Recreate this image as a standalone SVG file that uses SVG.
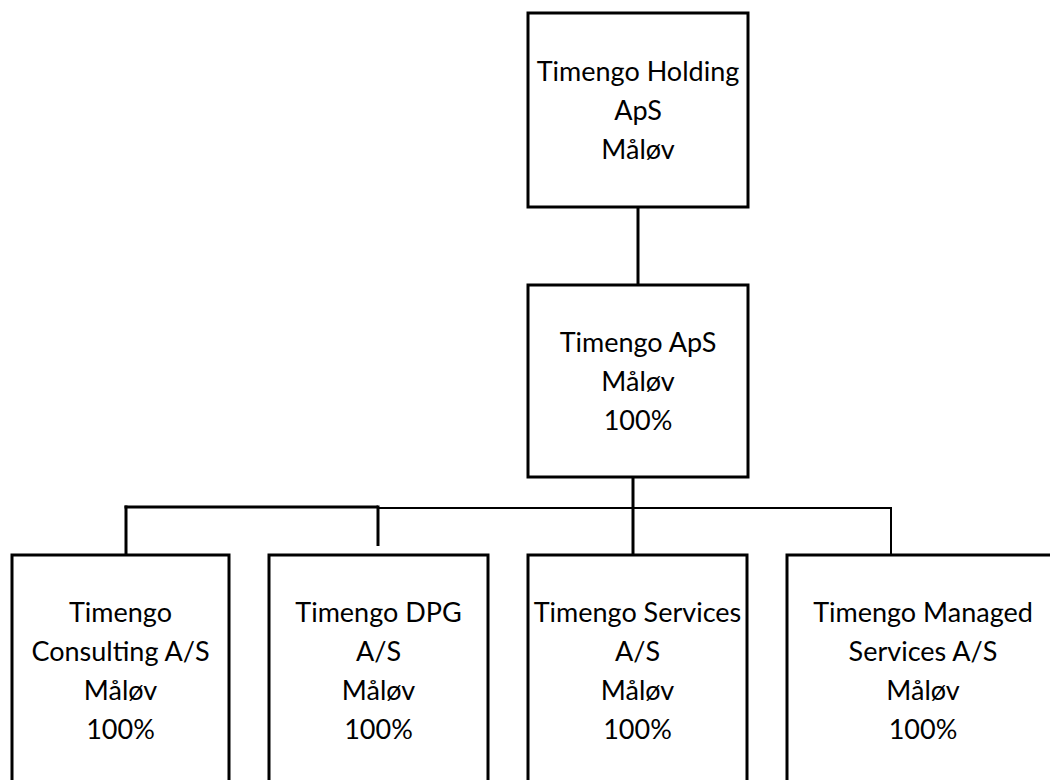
<svg xmlns="http://www.w3.org/2000/svg" width="1050" height="780" viewBox="0 0 1050 780">
  <style>
    .box { fill: #ffffff; stroke: #000000; stroke-width: 3; }
    .lbl { font-family: Lato, "Open Sans", "Liberation Sans", sans-serif; font-size: 27px; fill: #000000; text-anchor: middle; }
    .ln { stroke: #000000; stroke-width: 3; fill: none; }
    .thin { stroke: #000000; stroke-width: 2; fill: none; }
  </style>
  <rect width="1050" height="780" fill="#ffffff"/>
  <g id="connectors">
    <line class="ln" x1="638" y1="207" x2="638" y2="285"/>
    <line class="ln" x1="633" y1="477" x2="633" y2="555"/>
    <line class="ln" x1="124.5" y1="507" x2="378" y2="507"/>
    <line class="thin" x1="378" y1="508" x2="892" y2="508"/>
    <line class="ln" x1="126" y1="505.5" x2="126" y2="555"/>
    <line class="ln" x1="378" y1="505.5" x2="378" y2="546"/>
    <line class="thin" x1="891" y1="507" x2="891" y2="555"/>
  </g>
  <g id="holding">
    <rect class="box" x="528" y="13" width="220" height="194"/>
    <text class="lbl" x="638" y="81">Timengo Holding</text>
    <text class="lbl" x="638" y="120">ApS</text>
    <text class="lbl" x="638" y="159">Måløv</text>
  </g>
  <g id="timengo-aps">
    <rect class="box" x="528" y="285" width="220" height="192"/>
    <text class="lbl" x="638" y="352">Timengo ApS</text>
    <text class="lbl" x="638" y="391">Måløv</text>
    <text class="lbl" x="638" y="430">100%</text>
  </g>
  <g id="consulting">
    <rect class="box" x="12" y="555" width="217" height="260"/>
    <text class="lbl" x="120.5" y="622">Timengo</text>
    <text class="lbl" x="120.5" y="661">Consulting A/S</text>
    <text class="lbl" x="120.5" y="700">Måløv</text>
    <text class="lbl" x="120.5" y="739">100%</text>
  </g>
  <g id="dpg">
    <rect class="box" x="269" y="555" width="219" height="260"/>
    <text class="lbl" x="378.5" y="622">Timengo DPG</text>
    <text class="lbl" x="378.5" y="661">A/S</text>
    <text class="lbl" x="378.5" y="700">Måløv</text>
    <text class="lbl" x="378.5" y="739">100%</text>
  </g>
  <g id="services">
    <rect class="box" x="528" y="555" width="219" height="260"/>
    <text class="lbl" x="637.5" y="622">Timengo Services</text>
    <text class="lbl" x="637.5" y="661">A/S</text>
    <text class="lbl" x="637.5" y="700">Måløv</text>
    <text class="lbl" x="637.5" y="739">100%</text>
  </g>
  <g id="managed">
    <rect class="box" x="787" y="555" width="272" height="260"/>
    <text class="lbl" x="923" y="622">Timengo Managed</text>
    <text class="lbl" x="923" y="661">Services A/S</text>
    <text class="lbl" x="923" y="700">Måløv</text>
    <text class="lbl" x="923" y="739">100%</text>
  </g>
</svg>
